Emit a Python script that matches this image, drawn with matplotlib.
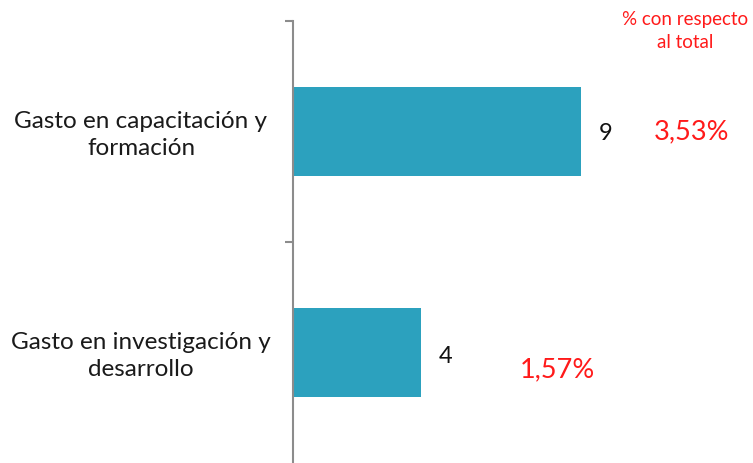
import matplotlib
matplotlib.use("Agg")
import matplotlib.pyplot as plt

categories = ["Gasto en investigación y\ndesarrollo", "Gasto en capacitación y\nformación"]
values = [4, 9]
pct_labels = ["1,57%", "3,53%"]

W, H = 753, 463
fig = plt.figure(figsize=(W / 100, H / 100), dpi=100)
ax = fig.add_axes([293 / W, 0, (W - 293) / W, (H - 21) / H])
font = ["Lato", "DejaVu Sans"]

pos = list(range(len(categories)))
ax.barh(pos, values, height=0.4, color="#2ca1be", zorder=2)
ax.set_xlim(0, (W - 293) / 32)
ax.set_ylim(-0.5, len(categories) - 0.5)

for s in ["top", "right", "bottom"]:
    ax.spines[s].set_visible(False)
ax.spines["left"].set_color("#8c8c8c")
ax.spines["left"].set_linewidth(1.5)
ax.set_xticks([])
ax.set_yticks(pos)
ax.set_yticklabels([])
ax.tick_params(axis="y", which="major", length=0)
ax.set_yticks([p + 0.5 for p in pos], minor=True)
ax.tick_params(axis="y", which="minor", length=6, width=1.5, color="#8c8c8c")

for p, c in zip(pos, categories):
    ax.text(-4.75, p - 0.015, c, ha="center", va="center", fontsize=17.5,
            family=font, color="#1a1a1a", linespacing=1.38)

num_y = [-0.02, -0.01]
for p, v, dy in zip(pos, values, num_y):
    ax.text(v + 0.55, p + dy, str(v), ha="left", va="center", fontsize=17,
            family=font, color="#111111")

pct_x = [8.27, 12.45]
pct_y = [-0.08, 0.0]
for p, t, x, y in zip(pos, pct_labels, pct_x, pct_y):
    ax.text(x, p + y, t, ha="center", va="center", fontsize=19.5,
            family=font, color="#ff1a1a")

fig.text(685 / W, 1 - 31 / H, "% con respecto\nal total", ha="center", va="center",
         fontsize=13.5, family=font, color="#ff1a1a", linespacing=1.5)

fig.savefig("out.png", dpi=100)
